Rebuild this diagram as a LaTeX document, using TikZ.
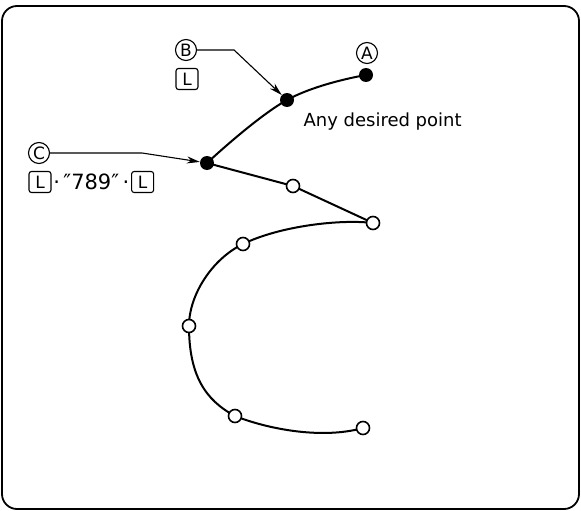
\documentclass[tikz,border=0pt]{standalone}
\usepackage{fontspec}
\setmainfont{DejaVu Sans}
\usetikzlibrary{arrows.meta}
\begin{document}
\begin{tikzpicture}[x=1pt,y=-1pt,
  soliddot/.style={circle,fill=black,inner sep=0pt,minimum size=14pt},
  opendot/.style={circle,draw=black,fill=white,line width=1.6pt,inner sep=0pt,minimum size=13pt},
  circled/.style={circle,draw,line width=1.1pt,inner sep=0pt,minimum size=21pt,font=\fontsize{17}{18}\selectfont},
  keybox/.style={draw,rounded corners=2.5pt,line width=1.1pt,inner sep=0pt,minimum width=22pt,minimum height=21pt,font=\fontsize{17}{18}\selectfont},
  curve/.style={line width=2pt},
  pointer/.style={line width=1.1pt,-{Stealth[length=13pt,width=7pt]}},
  lbl/.style={font=\fontsize{18}{22}\selectfont}]
\useasboundingbox (0,0) rectangle (581,511);
\draw[line width=1.8pt, rounded corners=15pt] (2,6) rectangle (579,509);
% point positions
\coordinate (pA) at (366,75);
\coordinate (pB) at (287,100);
\coordinate (pC) at (207,163);
\coordinate (p1) at (293,186);
\coordinate (p2) at (373,223);
\coordinate (p3) at (243,244);
\coordinate (p4) at (189,326);
\coordinate (p5) at (235,416);
\coordinate (p6) at (363,428);
% path
\draw[curve] plot[smooth,tension=0.7] coordinates {(pA) (pB) (pC)};
\draw[curve] (pC) -- (p1) -- (p2);
\draw[curve] (p2) .. controls (340,219) and (280,226) .. (p3)
  .. controls (212,259) and (189,295) .. (p4)
  .. controls (189,375) and (205,400) .. (p5)
  .. controls (265,428) and (320,440) .. (p6);
% points
\node[soliddot] (A) at (pA) {};
\node[soliddot] (B) at (pB) {};
\node[soliddot] (C) at (pC) {};
\node[opendot] (P1) at (p1) {};
\node[opendot] (P2) at (p2) {};
\node[opendot] (P3) at (p3) {};
\node[opendot] (P4) at (p4) {};
\node[opendot] (P5) at (p5) {};
\node[opendot] (P6) at (p6) {};
% labels
\node[circled] (lA) at (367,53) {A};
\node[circled] (lB) at (186,50) {B};
\node[keybox] (kB) at (187,79) {L};
\node[circled] (lC) at (39,153) {C};
\node[keybox] (k1) at (40,182) {L};
\node[font=\fontsize{21}{24}\selectfont, anchor=west, inner sep=1.5pt] (q) at (k1.east) {·\,″789″\,·};
\node[keybox, anchor=west] (k2) at (q.east) {L};
\node[lbl, anchor=base west] (t) at (300,126) {Any desired point};
% pointers
\draw[pointer] (lB.east) -- ++(37,0) -- (B);
\draw[pointer] (lC.east) -- ++(92,0) -- (C);
\end{tikzpicture}
\end{document}
